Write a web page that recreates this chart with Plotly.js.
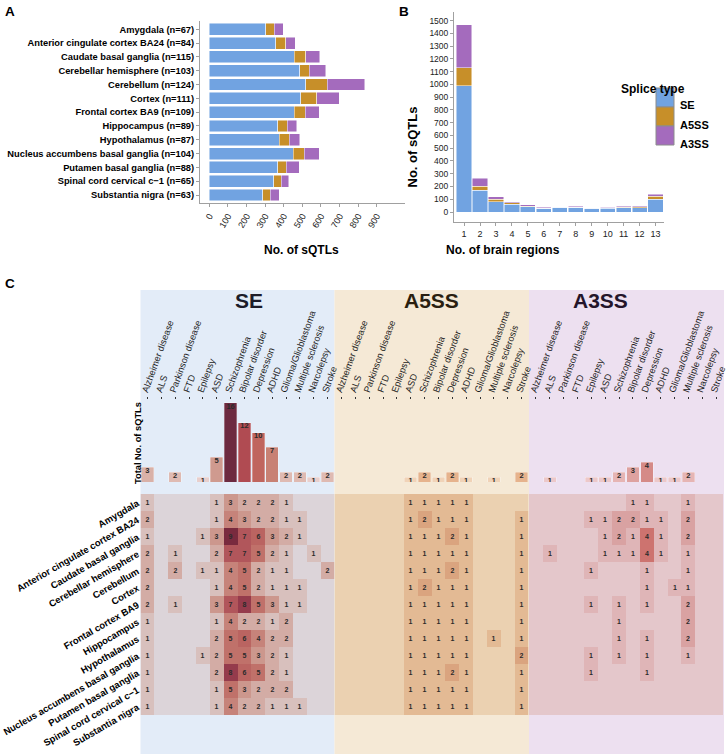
<!DOCTYPE html>
<html><head><meta charset="utf-8">
<script src="https://cdn.plot.ly/plotly-3.0.1.min.js"></script>
<style>html,body{margin:0;padding:0;background:#fff}#chart{width:727px;height:754px}</style>
</head><body><div id="chart"></div>
<script>
// ---------- DATA ----------
const tissues = ['Amygdala','Anterior cingulate cortex BA24','Caudate basal ganglia','Cerebellar hemisphere','Cerebellum','Cortex','Frontal cortex BA9','Hippocampus','Hypothalamus','Nucleus accumbens basal ganglia','Putamen basal ganglia','Spinal cord cervical c\u22121','Substantia nigra'];
const tissueN = [67,84,115,103,124,111,109,89,87,104,88,65,63];
// Panel A: sQTLs per tissue by splice type
const tissueSE   = [304,356,458,485,519,492,456,369,377,451,367,347,288];
const tissueA5SS = [45,55,61,53,114,86,61,50,52,59,46,39,39];
const tissueA3SS = [48,50,75,88,202,120,73,50,56,82,70,40,50];
const massTicks = [0,100,200,300,400,500,600,700,800,900];
// Panel B: sQTLs by number of brain regions
const regionCounts = [1,2,3,4,5,6,7,8,9,10,11,12,13];
const regionSE   = [990,172,81,63,42,29,36,36,28,30,35,32,99];
const regionA5SS = [141,32,18,8,5,2,2,3,2,3,4,8,24];
const regionA3SS = [335,60,21,10,10,6,4,8,4,6,8,10,15];
const countTicks = [0,100,200,300,400,500,600,700,800,900,1000,1100,1200,1300,1400,1500];
// Panel C
const spliceTypes = ['SE','A5SS','A3SS'];
const diseases = ['Alzheimer disease','ALS','Parkinson disease','FTD','Epilepsy','ASD','Schizophrenia','Bipolar disorder','Depression','ADHD','Glioma/Glioblastoma','Multiple sclerosis','Narcolepsy','Stroke'];
const totalSE   = [3,0,2,0,1,5,16,12,10,7,2,2,1,2];
const totalA5SS = [0,0,0,0,0,1,2,1,2,1,0,1,0,2];
const totalA3SS = [0,1,0,0,1,1,2,3,4,1,1,2,0,0];
const heatSE = [
 [1,0,0,0,0,1,3,2,2,2,1,0,0,0],
 [2,0,0,0,0,1,4,3,2,2,1,1,0,0],
 [1,0,0,0,1,3,9,7,6,3,2,1,0,0],
 [2,0,1,0,0,2,7,7,5,2,1,0,1,0],
 [2,0,2,0,1,1,4,5,2,1,1,0,0,2],
 [2,0,0,0,0,1,4,5,2,1,1,1,0,0],
 [2,0,1,0,0,3,7,8,5,3,1,1,0,0],
 [1,0,0,0,0,1,4,2,2,1,2,0,0,0],
 [1,0,0,0,0,2,5,6,4,2,2,0,0,0],
 [1,0,0,0,1,2,5,5,3,2,1,0,0,0],
 [1,0,0,0,0,2,8,6,5,2,1,0,0,0],
 [1,0,0,0,0,1,5,3,2,2,2,0,0,0],
 [1,0,0,0,0,1,4,2,2,1,1,1,0,0]];
const heatA5SS = [
 [0,0,0,0,0,1,1,1,1,1,0,0,0,0],
 [0,0,0,0,0,1,2,1,1,1,0,0,0,1],
 [0,0,0,0,0,1,1,1,2,1,0,0,0,1],
 [0,0,0,0,0,1,1,1,1,1,0,0,0,1],
 [0,0,0,0,0,1,1,1,2,1,0,0,0,1],
 [0,0,0,0,0,1,2,1,1,1,0,0,0,1],
 [0,0,0,0,0,1,1,1,1,1,0,0,0,1],
 [0,0,0,0,0,1,1,1,1,1,0,0,0,1],
 [0,0,0,0,0,1,1,1,1,1,0,1,0,1],
 [0,0,0,0,0,1,1,1,1,1,0,0,0,2],
 [0,0,0,0,0,1,1,1,2,1,0,0,0,1],
 [0,0,0,0,0,1,1,1,1,1,0,0,0,1],
 [0,0,0,0,0,1,1,1,1,1,0,0,0,1]];
const heatA3SS = [
 [0,0,0,0,0,0,0,1,1,0,0,1,0,0],
 [0,0,0,0,1,1,2,2,1,1,0,2,0,0],
 [0,0,0,0,0,1,2,1,4,1,0,2,0,0],
 [0,1,0,0,0,1,1,1,4,1,0,1,0,0],
 [0,0,0,0,1,0,0,0,1,0,0,1,0,0],
 [0,0,0,0,0,0,0,0,1,0,1,1,0,0],
 [0,0,0,0,1,0,1,0,1,0,0,2,0,0],
 [0,0,0,0,0,0,1,0,0,0,0,2,0,0],
 [0,0,0,0,0,0,1,0,1,0,0,2,0,0],
 [0,0,0,0,1,0,1,0,1,0,0,1,0,0],
 [0,0,0,0,1,0,0,0,1,0,0,0,0,0],
 [0,0,0,0,0,0,0,0,0,0,0,0,0,0],
 [0,0,0,0,0,0,0,0,0,0,0,0,0,0]];

// ---------- STYLE ----------
const W = 727, H = 754;
const FONT = 'Liberation Sans, Arial, Helvetica, sans-serif';
const px = v => v / W, py = v => 1 - v / H;
const COL = {SE:'#71a3e1', A5SS:'#c78f29', A3SS:'#a46bbd'};
const tissueLabels = tissues.map((t,i) => t + ' (n=' + tissueN[i] + ')');
const lab = v => v ? String(v) : '';

const traces = [];
// Panel A
[['SE',tissueSE],['A5SS',tissueA5SS],['A3SS',tissueA3SS]].forEach(([n,v]) => {
  traces.push({type:'bar', orientation:'h', name:n, x:v, y:tissueLabels, xaxis:'x', yaxis:'y',
    width:0.86, marker:{color:COL[n], line:{color:'rgba(255,255,255,0.8)', width:0.6}}, showlegend:false});
});
// Panel B
[['SE',regionSE],['A5SS',regionA5SS],['A3SS',regionA3SS]].forEach(([n,v]) => {
  traces.push({type:'bar', name:n, x:regionCounts, y:v, xaxis:'x2', yaxis:'y2',
    width:0.95, marker:{color:COL[n], line:{color:'rgba(255,255,255,0.8)', width:0.6}}, showlegend:false});
});
// Panel C
const topScales = {
  SE: [[0,'#f2e2e1'],[1/16,'#e8cfcd'],[2/16,'#dfbab2'],[3/16,'#d9b1a8'],[5/16,'#cf9a8f'],[7/16,'#c88174'],[10/16,'#c0655e'],[12/16,'#b04b52'],[1,'#6d2a40']],
  A5SS: [[0,'#f7e6d4'],[0.5,'#f0d3b8'],[1,'#e6b38d']],
  A3SS: [[0,'#f1dcde'],[0.25,'#ecc8ca'],[0.5,'#e6b5b4'],[0.75,'#dea2a0'],[1,'#d58a87']]
};
const heatScales = {
  SE: [[0,'#dcd4d9'],[1/9,'#d8c0bd'],[2/9,'#d3aca5'],[3/9,'#cc978d'],[4/9,'#c6837a'],[5/9,'#c0716a'],[6/9,'#ba6461'],[7/9,'#b1565b'],[8/9,'#953b4c'],[1,'#792a3e']],
  A5SS: [[0,'#ebd1b1'],[0.5,'#e3ba94'],[1,'#daa47f']],
  A3SS: [[0,'#e4c7cb'],[0.25,'#dfb5b7'],[0.5,'#d9a2a2'],[0.75,'#d38b88'],[1,'#cd736f']]
};
const topData = {SE:totalSE, A5SS:totalA5SS, A3SS:totalA3SS};
const heatData = {SE:heatSE, A5SS:heatA5SS, A3SS:heatA3SS};
const xa = {SE:'x3', A5SS:'x4', A3SS:'x5'};
spliceTypes.forEach(s => {
  const t = topData[s];
  traces.push({type:'bar', x:diseases, y:t, xaxis:xa[s], yaxis:'y3', width:0.9,
    marker:{color:t, colorscale:topScales[s], cmin:0, cmax:Math.max(...t), line:{color:'rgba(255,255,255,0.6)', width:0.5}},
    showlegend:false});
  traces.push({type:'scatter', mode:'text', x:diseases, y:t, text:t.map(lab), xaxis:xa[s], yaxis:'y3',
    textposition:'bottom center', textfont:{family:FONT, size:7.5, color:'#2b2b2b', weight:'bold'}, showlegend:false, hoverinfo:'skip'});
  const z = heatData[s];
  traces.push({type:'heatmap', x:diseases, y:tissues, z:z, text:z.map(r => r.map(lab)), texttemplate:'%{text}',
    textfont:{family:FONT, size:7, color:'#2b2b2b', weight:'bold'},
    colorscale:heatScales[s], zmin:0, zmax:Math.max(...z.flat()), showscale:false, xaxis:xa[s], yaxis:'y4'});
});

const axBase = {showgrid:false, zeroline:false, showline:true, linecolor:'#a0a0a0', linewidth:1,
  ticks:'outside', ticklen:3, tickcolor:'#a0a0a0', tickfont:{family:FONT, size:9, color:'#222'}};
const diseaseAxis = (d) => ({domain:d, anchor:'y3', side:'top', type:'category', categoryarray:diseases,
  range:[-0.5,13.5], showgrid:false, zeroline:false, showline:false, ticks:'outside', ticklen:2, tickcolor:'#333',
  tickangle:-70, ticklabelshift:-4, ticklabelstandoff:-3,
  tickfont:{family:FONT, size:9.3, color:'#1a1a1a'}, fixedrange:true});

const shapes = [
  {type:'rect', xref:'paper', yref:'paper', x0:px(140.5), x1:px(334.5), y0:0, y1:py(290), fillcolor:'#e3ecf8', line:{width:0}, layer:'below'},
  {type:'rect', xref:'paper', yref:'paper', x0:px(334.5), x1:px(529), y0:0, y1:py(290), fillcolor:'#f5e9d6', line:{width:0}, layer:'below'},
  {type:'rect', xref:'paper', yref:'paper', x0:px(529), x1:px(724), y0:0, y1:py(290), fillcolor:'#ede0f0', line:{width:0}, layer:'below'}
];
// legend keys (panel B)
const legendItems = ['SE','A5SS','A3SS'];
legendItems.forEach((n,i) => {
  shapes.push({type:'rect', xref:'paper', yref:'paper', x0:px(656), x1:px(674), y0:py(107+19*i), y1:py(88+19*i),
    fillcolor:COL[n], line:{color:'#8c8c8c', width:1}});
});

const ann = (x,y,text,opt) => Object.assign({xref:'paper', yref:'paper', x:px(x), y:py(y), text:text, showarrow:false,
  font:{family:FONT, size:12, color:'#000', weight:'bold'}}, opt||{});
const annotations = [
  ann(3,2,'A',{xanchor:'left', yanchor:'top', font:{family:FONT,size:13.5,color:'#000',weight:'bold'}}),
  ann(397,2,'B',{xanchor:'left', yanchor:'top', font:{family:FONT,size:13.5,color:'#000',weight:'bold'}}),
  ann(3,274,'C',{xanchor:'left', yanchor:'top', font:{family:FONT,size:13.5,color:'#000',weight:'bold'}}),
  ann(301,241,'No. of sQTLs'),
  ann(562,241,'No. of brain regions'),
  ann(412,105,'No. of sQTLs',{textangle:-90, font:{family:FONT,size:13,color:'#000',weight:'bold'}}),
  ann(687,80,'Splice type',{font:{family:FONT,size:12,color:'#000',weight:'bold'}}),
  ann(131,443,'Total No. of sQTLs',{textangle:-90, font:{family:FONT,size:9.3,color:'#000',weight:'bold'}}),
  ann(233,300,'SE',{font:{family:FONT,size:21,color:'#1c1c2a',weight:'bold'}}),
  ann(431,300,'A5SS',{font:{family:FONT,size:21,color:'#2a1f10',weight:'bold'}}),
  ann(630,300,'A3SS',{font:{family:FONT,size:21,color:'#24152a',weight:'bold'}})
];
legendItems.forEach((n,i) => annotations.push(ann(678,97.5+19*i,n,{xanchor:'left', font:{family:FONT,size:11,color:'#000',weight:'bold'}})));

const layout = {
  width:W, height:H, margin:{l:0,r:0,t:0,b:0}, paper_bgcolor:'#fff', plot_bgcolor:'rgba(0,0,0,0)',
  barmode:'stack', showlegend:false, font:{family:FONT},
  xaxis: Object.assign({}, axBase, {domain:[px(200),px(404.6)], anchor:'y', range:[-50,1050], tickvals:massTicks, tickangle:-60}),
  yaxis: Object.assign({}, axBase, {domain:[py(203.3),py(21)], anchor:'x', type:'category', categoryarray:tissueLabels,
    range:[12.6,-0.6], tickfont:{family:FONT, size:9.3, color:'#000', weight:'bold'}}),
  xaxis2: Object.assign({}, axBase, {domain:[px(454),px(664)], anchor:'y2', range:[0.37,13.53], tickvals:regionCounts, tickangle:0}),
  yaxis2: Object.assign({}, axBase, {domain:[py(222),py(12)], anchor:'x2', range:[-78,1567], tickvals:countTicks, tickfont:{family:FONT,size:8.5,color:'#222'}}),
  xaxis3: diseaseAxis([px(140.5),px(334.5)]),
  xaxis4: diseaseAxis([px(334.5),px(528.5)]),
  xaxis5: diseaseAxis([px(529),px(723)]),
  yaxis3: {domain:[py(482),py(400)], anchor:'x3', range:[0,16.6], showticklabels:false, showgrid:false, zeroline:false, showline:false, ticks:''},
  yaxis4: {domain:[py(715),py(494)], anchor:'x3', type:'category', categoryarray:tissues, range:[12.5,-0.5],
    showgrid:false, zeroline:false, showline:false, ticks:'', tickangle:-30, ticklabelstandoff:2,
    tickfont:{family:FONT, size:9.5, color:'#000', weight:'bold'}},
  shapes:shapes, annotations:annotations
};
Plotly.newPlot('chart', traces, layout, {staticPlot:true, displayModeBar:false});
</script></body></html>
